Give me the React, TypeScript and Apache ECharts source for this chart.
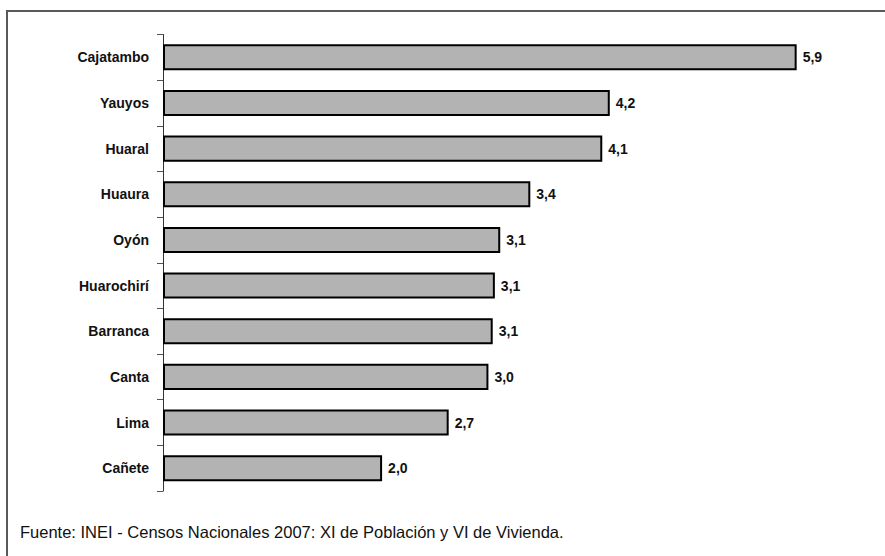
import React, { useEffect, useRef } from "react";
import * as echarts from "echarts";

const categories = [
  "Cajatambo",
  "Yauyos",
  "Huaral",
  "Huaura",
  "Oyón",
  "Huarochirí",
  "Barranca",
  "Canta",
  "Lima",
  "Cañete",
];
const values = [5.9, 4.16, 4.09, 3.42, 3.14, 3.09, 3.07, 3.03, 2.66, 2.04];
const sourceText = "Fuente: INEI - Censos Nacionales 2007: XI de Población y VI de Vivienda.";

const FONT = "'Liberation Sans', Arial, sans-serif";

export default function App() {
  const ref = useRef<HTMLDivElement>(null);
  useEffect(() => {
    if (!ref.current) return;
    const chart = echarts.init(ref.current, null, { renderer: "svg" });
    chart.setOption({
      animation: false,
      backgroundColor: "#ffffff",
      grid: { left: 163, right: 77.6, top: 34.5, bottom: 65, containLabel: false },
      xAxis: {
        type: "value",
        min: 0,
        max: 6,
        show: false,
      },
      yAxis: {
        type: "category",
        data: categories,
        inverse: true,
        axisLine: { show: true, lineStyle: { color: "#333333", width: 1 } },
        axisTick: { show: true, length: 6, lineStyle: { color: "#555555", width: 1 } },
        axisLabel: {
          margin: 14,
          color: "#111111",
          fontFamily: FONT,
          fontWeight: "bold",
          fontSize: 14,
        },
        splitLine: { show: false },
      },
      series: [
        {
          type: "bar",
          data: values,
          barWidth: "57%",
          itemStyle: { color: "#b3b3b3", borderColor: "#000000", borderWidth: 2 },
          label: {
            show: true,
            position: "right",
            distance: 6,
            color: "#111111",
            fontFamily: FONT,
            fontWeight: "bold",
            fontSize: 14,
            formatter: (p: any) => p.value.toFixed(1).replace(".", ","),
          },
        },
      ],
      graphic: [
        {
          type: "rect",
          shape: { x: 7, y: 11, width: 900, height: 600 },
          style: { fill: "none", stroke: "#595959", lineWidth: 2 },
          silent: true,
        },
        {
          type: "text",
          x: 20,
          y: 532,
          style: {
            text: sourceText,
            fill: "#111111",
            font: `16.5px ${FONT}`,
            textVerticalAlign: "middle",
          },
        },
      ],
    });
    return () => chart.dispose();
  }, []);
  return (
    <div
      ref={ref}
      style={{ position: "absolute", left: 0, top: 0, width: 885, height: 556 }}
    />
  );
}
